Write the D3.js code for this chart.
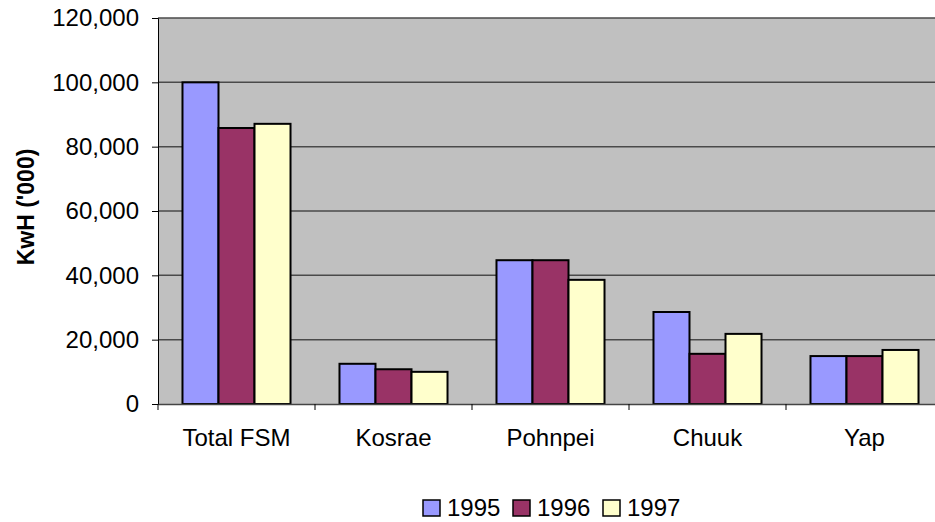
<!DOCTYPE html>
<html><head><meta charset="utf-8">
<script src="https://cdnjs.cloudflare.com/ajax/libs/d3/7.8.5/d3.min.js"></script>
<style>body{margin:0;background:#fff}svg{display:block}text{font-family:"Liberation Sans",Arial,sans-serif;fill:#000}</style>
</head><body><svg id="c" width="935" height="522"></svg>
<script>
const categories = ["Total FSM","Kosrae","Pohnpei","Chuuk","Yap"];
const years = ["1995","1996","1997"];
const v1995 = [100000, 12500, 44700, 28600, 14900];
const v1996 = [85800, 10800, 44700, 15600, 14900];
const v1997 = [87100, 10000, 38600, 21800, 16800];
const yTicks = [0,20000,40000,60000,80000,100000,120000];
const colors = ["#9999FF","#993366","#FFFFCC"];
const series = [v1995, v1996, v1997];

const svg = d3.select("#c");
const L = 158, R = 943, T = 18, B = 404;
const x = d3.scaleBand().domain(categories).range([L, R]).paddingInner(0).paddingOuter(0);
const y = d3.scaleLinear().domain([0,120000]).range([B, T]);
const xs = d3.scaleBand().domain(years).range([0, x.bandwidth()]).paddingInner(0).paddingOuter(0.68);

svg.append("rect").attr("x",L).attr("y",T).attr("width",R-L).attr("height",B-T).attr("fill","#C0C0C0");
svg.append("g").selectAll("line").data(yTicks.filter(d=>d>0)).join("line")
  .attr("x1",L).attr("x2",R).attr("y1",d=>y(d)).attr("y2",d=>y(d))
  .attr("stroke","#4a4a4a").attr("stroke-width",1.5);

const g = svg.append("g");
categories.forEach((c,i)=>{
  series.forEach((s,j)=>{
    g.append("rect").attr("x",x(c)+xs(years[j])).attr("y",y(s[i]))
     .attr("width",xs.bandwidth()).attr("height",B-y(s[i]))
     .attr("fill",colors[j]).attr("stroke","#000").attr("stroke-width",2);
  });
});

const ya = d3.axisLeft(y).tickValues(yTicks).tickSize(6).tickPadding(13).tickFormat(d3.format(","));
const yg = svg.append("g").attr("transform",`translate(${L},0)`).call(ya);
yg.select(".domain").attr("stroke","#000").attr("stroke-width",1);
yg.selectAll(".tick line").attr("stroke","#000");
yg.selectAll("text").style("font-size","24px").attr("fill","#000");

const xa = d3.axisBottom(x).tickSize(0).tickPadding(25);
const xg = svg.append("g").attr("transform",`translate(0,${B})`).call(xa);
xg.select(".domain").attr("stroke","#444").attr("stroke-width",1.5);
xg.selectAll("text").style("font-size","24px").attr("fill","#000");
xg.selectAll(".bt").data(d3.range(categories.length+1)).join("line")
  .attr("x1",i=>L+i*x.step()).attr("x2",i=>L+i*x.step()).attr("y1",0).attr("y2",6).attr("stroke","#000");

svg.append("text").attr("transform","translate(34,207) rotate(-90)").attr("text-anchor","middle")
  .style("font-size","23px").style("font-weight","bold").text("KwH ('000)");

const lx = [423, 513, 603];
years.forEach((yr,j)=>{
  svg.append("rect").attr("x",lx[j]).attr("y",500).attr("width",17).attr("height",16)
    .attr("fill",colors[j]).attr("stroke","#000").attr("stroke-width",1.5);
  svg.append("text").attr("x",lx[j]+24).attr("y",516).style("font-size","24px").text(yr);
});
</script></body></html>
